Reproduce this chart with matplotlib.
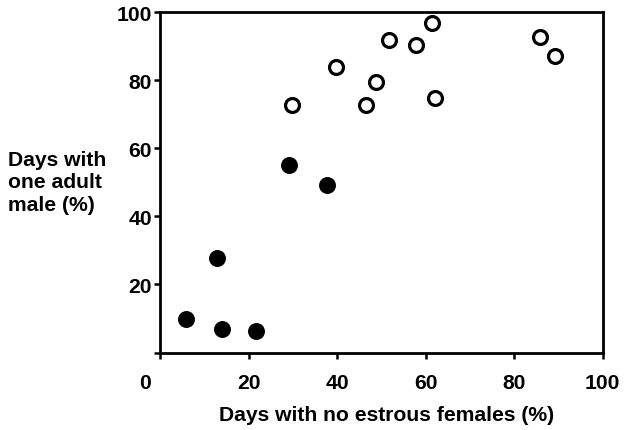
import matplotlib
matplotlib.use("Agg")
import matplotlib.pyplot as plt
from matplotlib.transforms import ScaledTranslation

plt.rcParams['font.family'] = ['Liberation Sans', 'DejaVu Sans']
plt.rcParams['font.weight'] = 'bold'

# Data
open_x = [29.7, 39.8, 46.4, 48.7, 51.7, 57.8, 61.5, 62.1, 85.8, 89.1]
open_y = [72.7, 83.8, 72.7, 79.6, 91.9, 90.5, 96.8, 74.8, 92.6, 87.1]
filled_x = [5.8, 12.7, 14.0, 21.6, 29.1, 37.7]
filled_y = [9.8, 27.7, 6.9, 6.4, 55.1, 49.2]

xticks = [0, 20, 40, 60, 80, 100]
yticks = [0, 20, 40, 60, 80, 100]
ytick_labels = ['', '20', '40', '60', '80', '100']

W, H = 625, 431
FS = 15.2
fig = plt.figure(figsize=(W / 100, H / 100), dpi=100)
left, right, bottom, top = 160.5, 602.7, 353.5, 13.3
ax = fig.add_axes([left / W, 1 - bottom / H, (right - left) / W, (bottom - top) / H])

ax.plot(filled_x, filled_y, 'o', color='black', markersize=12.2, markeredgewidth=0, clip_on=False)
ax.plot(open_x, open_y, 'o', markerfacecolor='white', markeredgecolor='black',
        markersize=10.0, markeredgewidth=2.3, clip_on=False)

ax.set_xlim(0, 100)
ax.set_ylim(0, 100)
ax.set_xticks(xticks)
ax.set_xticklabels([str(v) for v in xticks])
ax.set_yticks(yticks)
ax.set_yticklabels(ytick_labels)

for s in ax.spines.values():
    s.set_linewidth(2.0)
ax.tick_params(axis='x', direction='out', length=4, width=1.8, pad=11, labelsize=FS)
ax.tick_params(axis='y', direction='out', length=4, width=1.8, pad=2, labelsize=FS)

# shift the "0" x tick label left as in the reference
lbl0 = ax.get_xticklabels()[0]
lbl0.set_transform(lbl0.get_transform() + ScaledTranslation(-0.155, 0, fig.dpi_scale_trans))

fig.text(386.7 / W, 1 - 416 / H, 'Days with no estrous females (%)', ha='center', va='center',
         fontsize=FS, fontweight='bold')
fig.text(8 / W, 1 - 183 / H, 'Days with\none adult\nmale (%)', ha='left', va='center',
         fontsize=FS, fontweight='bold', linespacing=1.22)

fig.savefig('out.png', dpi=100, facecolor='white')
